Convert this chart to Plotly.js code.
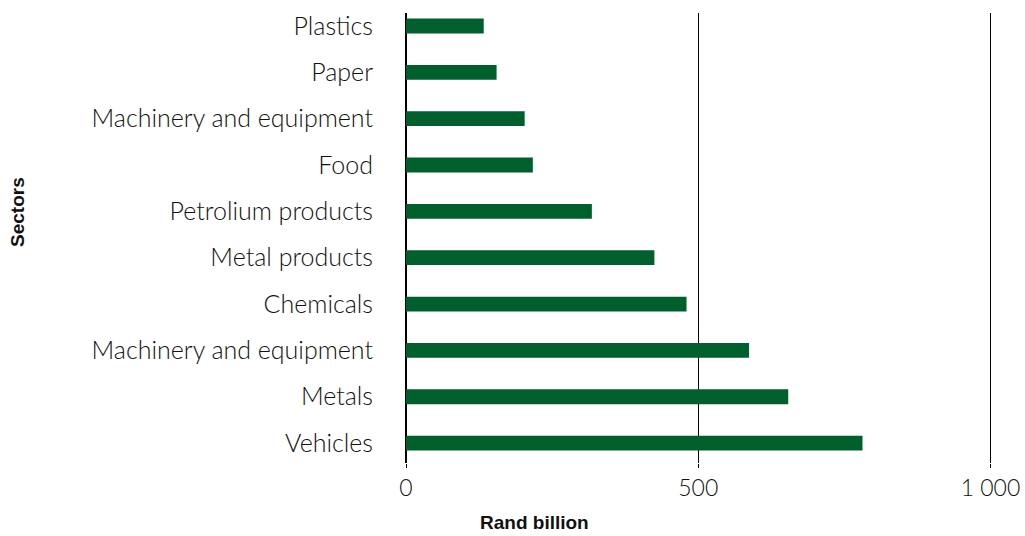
<!DOCTYPE html>
<html>
<head>
<meta charset="utf-8">
<script src="https://cdn.plot.ly/plotly-3.0.1.min.js"></script>
<style>html,body{margin:0;padding:0;background:#fff;}#chart{width:1025px;height:536px;}</style>
</head>
<body>
<div id="chart"></div>
<script>
// Data (bottom to top)
const sectors = ["Vehicles","Metals","Machinery and equipment","Chemicals","Metal products","Petrolium products","Food","Machinery and equipment","Paper","Plastics"];
const values = [781, 654, 587, 480, 425, 318, 217, 203, 155, 133];
const xTickVals = [0, 500, 1000];
const xTickText = ["0", "500", "1 000"];
const xTitle = "Rand billion";
const yTitle = "Sectors";

const positions = sectors.map((_, i) => i);

const trace = {
  type: 'bar',
  orientation: 'h',
  x: values,
  y: positions,
  width: 0.32,
  marker: {color: '#005F2C', line: {width: 0}},
  hoverinfo: 'x+text',
  text: sectors,
  textposition: 'none'
};

const labelFont = {family: 'Lato, "Open Sans", sans-serif', size: 25, color: '#111', weight: 300};
const xLabelFont = {family: 'Lato, "Open Sans", sans-serif', size: 23, color: '#111', weight: 300};
const titleFont = {family: '"Liberation Sans", Arial, sans-serif', size: 19, color: '#111', weight: 700};

const layout = {
  width: 1025, height: 536,
  margin: {l: 406, r: 17, t: 13, b: 73},
  paper_bgcolor: '#fff', plot_bgcolor: '#fff',
  showlegend: false,
  xaxis: {
    range: [0, 1030],
    tickvals: xTickVals, ticktext: xTickText,
    showgrid: true, gridcolor: '#000', gridwidth: 1,
    zeroline: true, zerolinecolor: '#000', zerolinewidth: 1.5,
    ticks: 'outside', ticklen: 4, tickcolor: '#000', tickwidth: 1,
    tickfont: xLabelFont,
    showline: false,
    fixedrange: true
  },
  yaxis: {
    range: [-0.43, 9.28],
    tickvals: positions, ticktext: sectors,
    showgrid: false, zeroline: false, showline: false,
    ticks: '', ticklabelstandoff: 32,
    tickfont: labelFont,
    fixedrange: true
  },
  annotations: [
    {text: xTitle, xref: 'paper', yref: 'paper', x: (534 - 406) / 602, y: (536 - 73 - 522) / 450,
     xanchor: 'center', yanchor: 'middle', showarrow: false, font: titleFont},
    {text: yTitle, xref: 'paper', yref: 'paper', x: (18 - 406) / 602, y: (463 - 212) / 450,
     xanchor: 'center', yanchor: 'middle', showarrow: false, textangle: -90, font: titleFont}
  ]
};

Plotly.newPlot('chart', [trace], layout, {displayModeBar: false, staticPlot: true});
</script>
</body>
</html>
